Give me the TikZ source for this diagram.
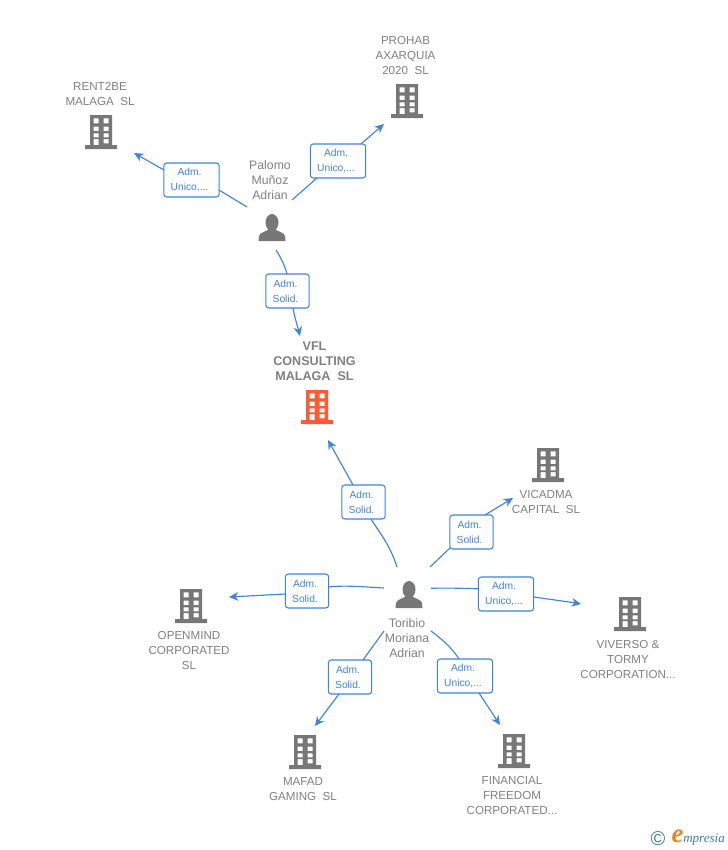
\documentclass[tikz,border=0pt]{standalone}
\usepackage{fontspec}
\setmainfont{Liberation Sans}
\newfontfamily\wmfont{Liberation Serif}
\usetikzlibrary{arrows.meta}
\definecolor{txtgray}{HTML}{808080}
\definecolor{icongray}{HTML}{777777}
\definecolor{iconorange}{HTML}{FF5C33}
\definecolor{linkblue}{HTML}{3F83E0}
\definecolor{wmteal}{HTML}{3A7F96}
\definecolor{wmorange}{HTML}{F08020}
\newcommand{\tagline}[1]{\hspace*{-3pt}#1}
\tikzset{
  reltag/.style={draw=linkblue,line width=0.8pt,rounded corners=2.2pt,fill=white,text=linkblue,
    minimum height=25.5pt,inner sep=0pt,align=center,font=\fontsize{7.7}{11.25}\selectfont},
  narrowtag/.style={reltag,minimum width=32.5pt},
  widetag/.style={reltag,minimum width=41.5pt},
  complabel/.style={text=txtgray,align=center,inner sep=0pt,font=\fontsize{8.7}{11.25}\selectfont},
  mainlabel/.style={text=txtgray,align=center,inner sep=0pt,font=\fontsize{9.45}{11.25}\selectfont\bfseries},
  perslabel/.style={text=txtgray,align=center,inner sep=0pt,font=\fontsize{9.2}{11.25}\selectfont},
  iconbox/.style={minimum width=24pt,minimum height=26pt,inner sep=0pt},
  link/.style={linkblue,line width=0.85pt},
  linkarrow/.style={link,-{Stealth[length=7pt,width=6.5pt]}}
}
\newcommand{\bldg}[4]{%
  \node[iconbox] (#1) at (#2,#3) {};
  \fill[#4,even odd rule,shift={(#2,#3)}]
    (-11,-17) rectangle (11,13) (-16,13) rectangle (16,17)
    (-7.5,-13.7) rectangle (-2.5,-8.7) (2.5,-13.7) rectangle (7.5,-8.7)
    (-7.5,-5.3) rectangle (-2.5,-1) (2.5,-5.3) rectangle (7.5,-1)
    (-7.5,1.3) rectangle (-2.5,5.3) (2.5,1.3) rectangle (7.5,5.3)
    (-7.5,7) rectangle (-2.5,13) (2.5,7) rectangle (7.5,11.3);
}
\newcommand{\persicon}[3]{%
  \node[iconbox,minimum width=21pt,minimum height=21pt] (#1) at (#2,#3) {};
  \fill[icongray,shift={(#2,#3)}] (0,-5.5) ellipse [x radius=6.5,y radius=8.5];
  \fill[icongray,shift={(#2,#3)}] (-13.5,13) -- (-13,8) .. controls (-12,4) and (-6,4) .. (-3,1)
    -- (3,1) .. controls (6,4) and (12,4) .. (13,8) -- (13.5,13) -- cycle;
}
\begin{document}
\begin{tikzpicture}[x=0.75pt,y=-0.75pt]
\useasboundingbox (0,0) rectangle (728,850);
% icons
\bldg{rent}{101}{132}{icongray}
\bldg{prohab}{407}{101}{icongray}
\bldg{vfl}{317}{407}{iconorange}
\bldg{vicadma}{548}{465}{icongray}
\bldg{viverso}{630}{614}{icongray}
\bldg{openmind}{191}{606}{icongray}
\bldg{mafad}{305}{752}{icongray}
\bldg{financial}{514}{751}{icongray}
\persicon{palomo}{272}{228}
\persicon{toribio}{409}{595}
% labels
\node[complabel] (rentl) at (100,94) {RENT2BE\\MALAGA\ \ SL};
\node[complabel] (prohabl) at (405.5,56) {PROHAB\\AXARQUIA\\2020\ \ SL};
\node[perslabel] (palomol) at (270,180) {Palomo\\Muñoz\\Adrian};
\node[mainlabel] (vfll) at (314.5,361) {VFL\\CONSULTING\\MALAGA\ \ SL};
\node[complabel] (vicadmal) at (546,502) {VICADMA\\CAPITAL\ \ SL};
\node[complabel] (viversol) at (628,659) {VIVERSO \&\\TORMY\\CORPORATION...};
\node[complabel] (openmindl) at (189,650.5) {OPENMIND\\CORPORATED\\SL};
\node[complabel] (mafadl) at (303,789) {MAFAD\\GAMING\ \ SL};
\node[complabel] (financiall) at (512,795.5) {FINANCIAL\\FREEDOM\\CORPORATED...};
\node[perslabel] (toribiol) at (407,638) {Toribio\\Moriana\\Adrian};
% relation tags
\node[widetag] (t1) at (191.5,180) {\tagline{Adm.}\\\tagline{Unico,...}};
\node[widetag] (t2) at (338,161) {\tagline{Adm.}\\\tagline{Unico,...}};
\node[narrowtag] (t3) at (287.5,291) {\tagline{Adm.}\\\tagline{Solid.}};
\node[narrowtag] (t4) at (363.5,502) {\tagline{Adm.}\\\tagline{Solid.}};
\node[narrowtag] (t5) at (471.5,532) {\tagline{Adm.}\\\tagline{Solid.}};
\node[widetag] (t6) at (506,594) {\tagline{Adm.}\\\tagline{Unico,...}};
\node[narrowtag] (t7) at (307,591) {\tagline{Adm.}\\\tagline{Solid.}};
\node[narrowtag] (t8) at (350,677) {\tagline{Adm.}\\\tagline{Solid.}};
\node[widetag] (t9) at (465,676) {\tagline{Adm.}\\\tagline{Unico,...}};
% connectors
\draw[link] ([shift={(-25,-21)}]palomo.center) -- ([shift={(27.5,10)}]t1.center);
\draw[linkarrow] ([shift={(-27.5,-10)}]t1.center) -- ([shift={(33,21)}]rent.center);
\draw[link] ([shift={(20,-28)}]palomo.center) -- ([shift={(-21,17)}]t2.center);
\draw[linkarrow] ([shift={(23,-17)}]t2.center) -- ([shift={(-23,23)}]prohab.center);
\draw[link] ([shift={(4,22)}]palomo.center) .. controls ([shift={(9,30)}]palomo.center) and ([shift={(-2.5,-25)}]t3.center) .. ([shift={(-0.5,-17)}]t3.center);
\draw[linkarrow] ([shift={(5.5,17)}]t3.center) .. controls ([shift={(7,26)}]t3.center) and ([shift={(-17,-35)}]vfll.center) .. ([shift={(-14.5,-25)}]vfll.center);
\draw[link] ([shift={(-12,-28)}]toribio.center) .. controls ([shift={(-19,-50)}]toribio.center) and ([shift={(17,32)}]t4.center) .. ([shift={(7.5,17)}]t4.center);
\draw[linkarrow] ([shift={(-10.5,-17)}]t4.center) -- ([shift={(11,33)}]vfl.center);
\draw[link] ([shift={(21,-28)}]toribio.center) -- ([shift={(-21.5,16)}]t5.center);
\draw[linkarrow] ([shift={(13.5,-17)}]t5.center) -- ([shift={(-35,33)}]vicadma.center);
\draw[link] ([shift={(22,-6.7)}]toribio.center) .. controls ([shift={(40,-7.2)}]toribio.center) and ([shift={(-40,-5.6)}]t6.center) .. ([shift={(-28,-5.2)}]t6.center);
\draw[linkarrow] ([shift={(28,3)}]t6.center) .. controls ([shift={(34,4)}]t6.center) and ([shift={(-60,-12)}]viverso.center) .. ([shift={(-49,-10)}]viverso.center);
\draw[link] ([shift={(-25,-7)}]toribio.center) .. controls ([shift={(-44,-8)}]toribio.center) and ([shift={(38,-6)}]t7.center) .. ([shift={(22,-4)}]t7.center);
\draw[linkarrow] ([shift={(-22,3)}]t7.center) -- ([shift={(38,-9)}]openmind.center);
\draw[link] ([shift={(-25,36)}]toribio.center) -- ([shift={(13,-17)}]t8.center);
\draw[linkarrow] ([shift={(-11,17)}]t8.center) -- ([shift={(10,-26)}]mafad.center);
\draw[link] ([shift={(22,36)}]toribio.center) .. controls ([shift={(34,45)}]toribio.center) and ([shift={(-13,-28)}]t9.center) .. ([shift={(-6,-17)}]t9.center);
\draw[linkarrow] ([shift={(14,17)}]t9.center) -- ([shift={(-14,-26)}]financial.center);
% watermark
\node[text=wmteal,inner sep=0pt,font=\fontsize{15}{15}\selectfont] (wmc) at (658,839) {©};
\node[text=wmorange,inner sep=0pt,font=\fontsize{20}{20}\selectfont\wmfont\itshape\bfseries] (wme) at (677.5,836) {e};
\node[text=wmteal,inner sep=0pt,anchor=west,font=\fontsize{9.8}{10}\selectfont\wmfont\itshape] (wmt) at (683,839.5) {mpresia};
\end{tikzpicture}
\end{document}
